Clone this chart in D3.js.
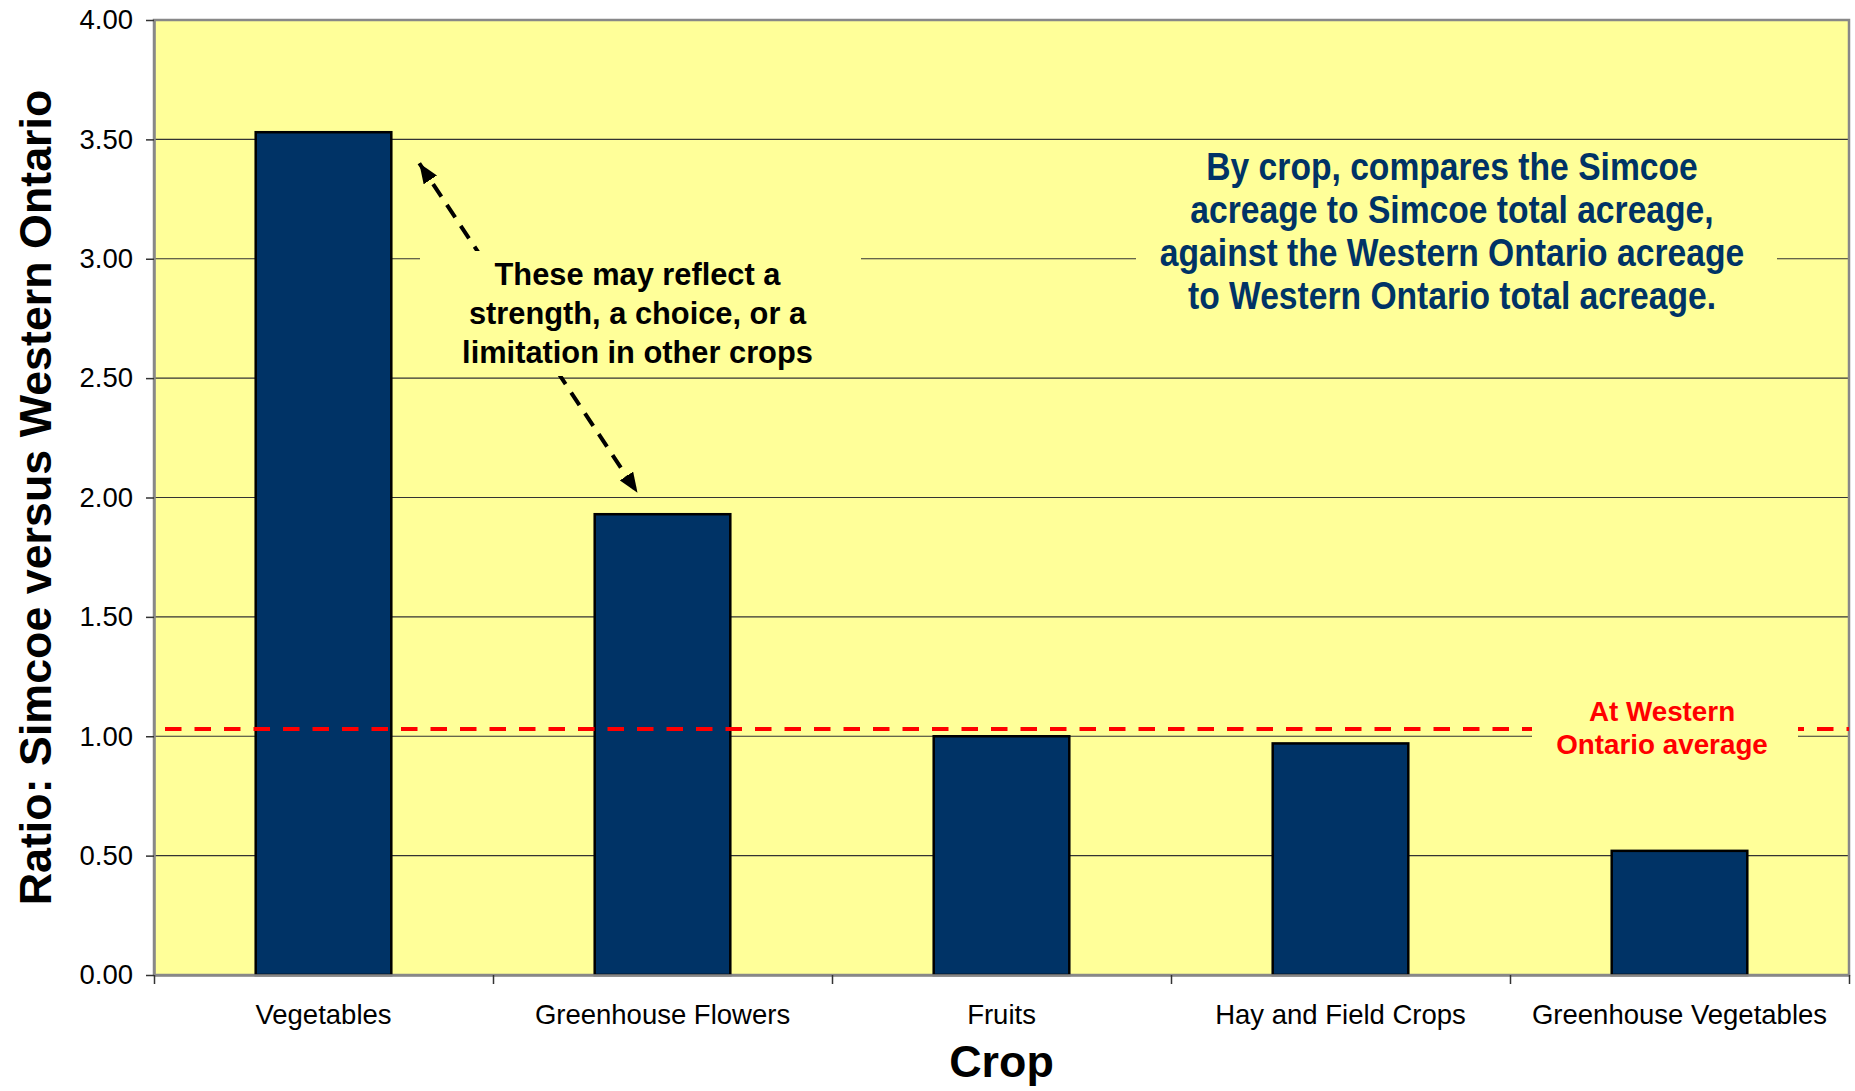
<!DOCTYPE html>
<html>
<head>
<meta charset="utf-8">
<script src="https://cdn.jsdelivr.net/npm/d3@7"></script>
<style>
body { margin: 0; background: #ffffff; }
svg { display: block; font-family: "Liberation Sans", Arial, sans-serif; }
</style>
</head>
<body>
<div id="chart"></div>
<script>
// values
var crops = ["Vegetables", "Greenhouse Flowers", "Fruits", "Hay and Field Crops", "Greenhouse Vegetables"];
var ratios = [3.53, 1.93, 1.00, 0.97, 0.52];
var y_ticks = [0, 0.5, 1, 1.5, 2, 2.5, 3, 3.5, 4];
var average_level = 1.03;

var note_lines = ["These may reflect a", "strength, a choice, or a", "limitation in other crops"];
var info_lines = ["By crop, compares the Simcoe", "acreage to Simcoe total acreage,",
    "against the Western Ontario acreage", "to Western Ontario total acreage."];
var average_lines = ["At Western", "Ontario average"];

var width = 1855, height = 1091;
var margin = {left: 154, top: 20, right: 6, bottom: 116};
var plot_w = width - margin.left - margin.right;
var plot_h = height - margin.top - margin.bottom;

var yellow = "#FFFF99";
var navy = "#003366";

var svg = d3.select("#chart").append("svg")
    .attr("width", width)
    .attr("height", height);

var g = svg.append("g")
    .attr("transform", "translate(" + margin.left + "," + margin.top + ")");

var x = d3.scaleBand()
    .domain(crops)
    .range([0, plot_w])
    .paddingInner(0.6)
    .paddingOuter(0.3);

// category boundaries for the tick marks
var x_edges = d3.scaleLinear()
    .domain([0, crops.length])
    .range([0, plot_w]);

var y = d3.scaleLinear()
    .domain([0, 4])
    .range([plot_h, 0]);

// plot area
g.append("rect")
    .attr("x", 0)
    .attr("y", 0)
    .attr("width", plot_w)
    .attr("height", plot_h)
    .attr("fill", yellow);

// gridlines
g.append("g")
    .selectAll("line")
    .data(y_ticks.filter(function (d) { return d > 0 && d < 4; }))
    .join("line")
    .attr("x1", 0)
    .attr("x2", plot_w)
    .attr("y1", function (d) { return y(d); })
    .attr("y2", function (d) { return y(d); })
    .attr("stroke", "#333333")
    .attr("stroke-width", 1.2);

// border of the plot area
g.append("rect")
    .attr("x", 0)
    .attr("y", 0)
    .attr("width", plot_w)
    .attr("height", plot_h)
    .attr("fill", "none")
    .attr("stroke", "#888888")
    .attr("stroke-width", 2.5);

// bars
g.append("g")
    .selectAll("rect")
    .data(crops)
    .join("rect")
    .attr("x", function (d) { return x(d); })
    .attr("y", function (d, i) { return y(ratios[i]); })
    .attr("width", x.bandwidth())
    .attr("height", function (d, i) { return plot_h - y(ratios[i]); })
    .attr("fill", navy)
    .attr("stroke", "#000000")
    .attr("stroke-width", 2.5);

// y axis
var y_axis = g.append("g")
    .call(d3.axisLeft(y)
        .tickValues(y_ticks)
        .tickFormat(d3.format(".2f"))
        .tickSize(8)
        .tickSizeOuter(0)
        .tickPadding(13));
y_axis.select(".domain").attr("stroke", "#888888").attr("stroke-width", 2.5);
y_axis.selectAll(".tick line").attr("stroke", "#333333").attr("stroke-width", 1.5);
y_axis.selectAll("text")
    .attr("font-size", 27.5)
    .attr("font-family", "Liberation Sans, Arial, sans-serif")
    .attr("fill", "#000000");

// x axis: tick marks between categories
var x_ticks = g.append("g")
    .attr("transform", "translate(0," + plot_h + ")")
    .call(d3.axisBottom(x_edges)
        .ticks(crops.length)
        .tickFormat("")
        .tickSize(9)
        .tickSizeOuter(0));
x_ticks.select(".domain").attr("stroke", "#888888").attr("stroke-width", 2.5);
x_ticks.selectAll(".tick line").attr("stroke", "#333333").attr("stroke-width", 1.5);

// x axis: category names
var x_labels = g.append("g")
    .attr("transform", "translate(0," + plot_h + ")")
    .call(d3.axisBottom(x).tickSize(0).tickPadding(29));
x_labels.select(".domain").remove();
x_labels.selectAll("text")
    .attr("font-size", 27.5)
    .attr("font-family", "Liberation Sans, Arial, sans-serif")
    .attr("fill", "#000000");

// western ontario average
g.append("line")
    .attr("x1", 11)
    .attr("x2", plot_w)
    .attr("y1", y(average_level))
    .attr("y2", y(average_level))
    .attr("stroke", "#FF0000")
    .attr("stroke-width", 4)
    .attr("stroke-dasharray", "16.5,13");

// double headed dashed arrow
var defs = svg.append("defs");
defs.append("marker")
    .attr("id", "head")
    .attr("viewBox", "0 0 20 16")
    .attr("refX", 20)
    .attr("refY", 8)
    .attr("markerWidth", 20)
    .attr("markerHeight", 16)
    .attr("markerUnits", "userSpaceOnUse")
    .attr("orient", "auto-start-reverse")
    .append("path")
    .attr("d", "M0,0 L20,8 L0,16 Z")
    .attr("fill", "#000000");

var arrow_from = [x("Vegetables") + x.bandwidth() + 28, y(3.40)];
var arrow_to = [x("Greenhouse Flowers") + x.bandwidth() / 2 - 25, y(2.02)];

g.append("line")
    .attr("x1", arrow_from[0])
    .attr("y1", arrow_from[1])
    .attr("x2", arrow_to[0])
    .attr("y2", arrow_to[1])
    .attr("stroke", "#000000")
    .attr("stroke-width", 4)
    .attr("stroke-dasharray", "15,10")
    .attr("marker-start", "url(#head)")
    .attr("marker-end", "url(#head)");

// text boxes sit on yellow patches that hide the lines behind them
function textBox(box, lines, cx, y0, step, size, color, squeeze) {
    g.append("rect")
        .attr("x", box[0])
        .attr("y", box[1])
        .attr("width", box[2] - box[0])
        .attr("height", box[3] - box[1])
        .attr("fill", yellow);
    lines.forEach(function (line, i) {
        g.append("text")
            .attr("transform", "translate(" + cx + "," + (y0 + i * step) + ") scale(" + squeeze + ",1)")
            .attr("text-anchor", "middle")
            .attr("font-size", size)
            .attr("font-weight", "bold")
            .attr("fill", color)
            .text(line);
    });
}

var note_cx = x("Greenhouse Flowers") + x.bandwidth() / 2 - 25;
textBox([266, 231, 707, 356], note_lines, note_cx, 264.5, 39, 30.8, "#000000", 1);
textBox([982, 130, 1623, 302], info_lines, 1298, 160, 43, 38, navy, 0.885);
textBox([1378, 670, 1644, 750], average_lines, 1508, 700.5, 33.5, 27.8, "#FF0000", 1);

// axis titles
svg.append("text")
    .attr("transform", "translate(51," + (margin.top + plot_h / 2) + ") rotate(-90)")
    .attr("text-anchor", "middle")
    .attr("font-size", 44.8)
    .attr("font-weight", "bold")
    .text("Ratio: Simcoe versus Western Ontario");

svg.append("text")
    .attr("x", margin.left + plot_w / 2)
    .attr("y", 1077)
    .attr("text-anchor", "middle")
    .attr("font-size", 44.8)
    .attr("font-weight", "bold")
    .text("Crop");
</script>
</body>
</html>
